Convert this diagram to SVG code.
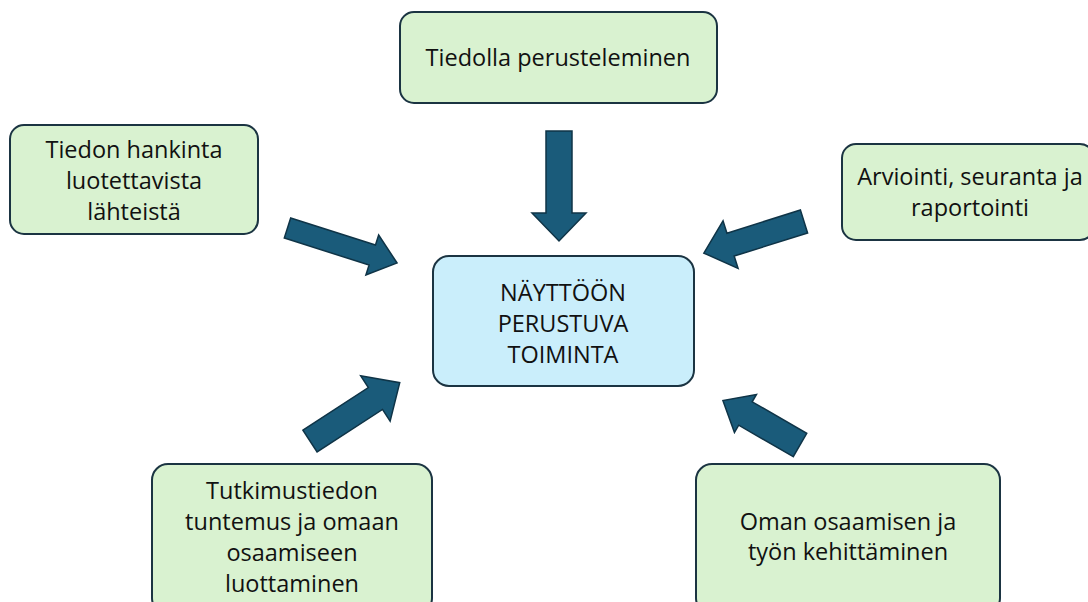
<svg xmlns="http://www.w3.org/2000/svg" width="1088" height="602" viewBox="0 0 1088 602">
<style>
.box{fill:#d9f2d0;stroke:#1b3442;stroke-width:2}
.center{fill:#caeefb;stroke:#1b3442;stroke-width:2}
.arr{fill:#1a5b7a;stroke:#0f3447;stroke-width:1.5;stroke-linejoin:miter}
text{font-family:"Open Sans","Liberation Sans",Arial,sans-serif;font-size:23.5px;fill:#111;text-anchor:middle}
</style>
<rect width="1088" height="602" fill="#ffffff"/>
<g id="connectors">
<path class="arr" transform="translate(559,131) rotate(90)" d="M0,-13 L82,-13 L82,-27 L110,0 L82,27 L82,13 L0,13 Z"/>
<path class="arr" transform="translate(287.5,228) rotate(17.7)" d="M0,-10.5 L89,-10.5 L89,-21 L115,0 L89,21 L89,10.5 L0,10.5 Z"/>
<path class="arr" transform="translate(804,221.5) rotate(162.5)" d="M0,-12 L77,-12 L77,-25 L105,0 L77,25 L77,12 L0,12 Z"/>
<path class="arr" transform="translate(310,441) rotate(-33)" d="M0,-13 L78,-13 L78,-27 L107,0 L78,27 L78,13 L0,13 Z"/>
<path class="arr" transform="translate(800,445) rotate(210)" d="M0,-13.5 L63,-13.5 L63,-22 L89,0 L63,22 L63,13.5 L0,13.5 Z"/>
</g>
<g id="n-top">
<rect class="box" x="400" y="12" width="317" height="91" rx="14"/>
<text x="558" y="66">Tiedolla perusteleminen</text>
</g>
<g id="n-left">
<rect class="box" x="10" y="125" width="248" height="109" rx="14"/>
<text x="134" y="158">Tiedon hankinta</text>
<text x="134" y="189">luotettavista</text>
<text x="134" y="220">lähteistä</text>
</g>
<g id="n-right">
<rect class="box" x="842" y="144" width="252" height="96" rx="14"/>
<text x="970" y="185">Arviointi, seuranta ja</text>
<text x="970" y="216">raportointi</text>
</g>
<g id="n-center">
<rect class="center" x="433" y="256" width="261" height="130" rx="16"/>
<text x="563" y="301">NÄYTTÖÖN</text>
<text x="563" y="332">PERUSTUVA</text>
<text x="563" y="363">TOIMINTA</text>
</g>
<g id="n-bottomleft">
<rect class="box" x="152" y="464" width="280" height="150" rx="16"/>
<text x="292" y="499">Tutkimustiedon</text>
<text x="292" y="530">tuntemus ja omaan</text>
<text x="292" y="561">osaamiseen</text>
<text x="292" y="592">luottaminen</text>
</g>
<g id="n-bottomright">
<rect class="box" x="696" y="464" width="304" height="150" rx="16"/>
<text x="848" y="530">Oman osaamisen ja</text>
<text x="848" y="560">työn kehittäminen</text>
</g>
</svg>
